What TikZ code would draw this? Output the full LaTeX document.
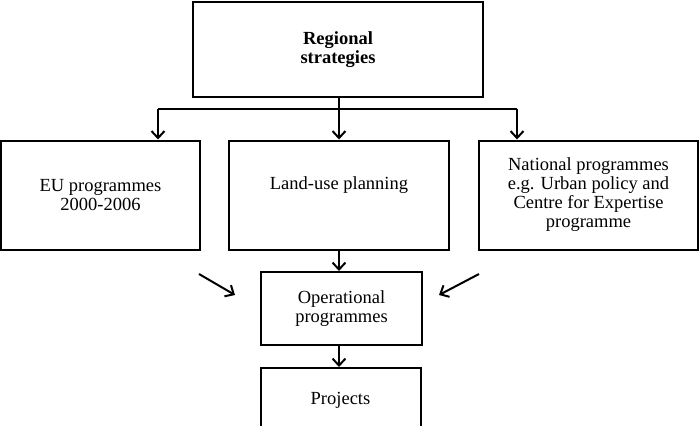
\documentclass[tikz,border=0pt]{standalone}
\usepackage{fontspec}
\setmainfont{Liberation Serif}
\usetikzlibrary{arrows.meta}

\tikzset{
  box/.style={draw, line width=2pt, inner sep=0pt, align=center,
    font=\fontsize{18.5}{19}\selectfont},
  flow/.style={line width=2pt, -{Straight Barb[length=7pt,width=13pt,line width=2pt]}}
}

\begin{document}
\begin{tikzpicture}[x=1pt,y=1pt,yscale=-1,xscale=1]
\useasboundingbox (0,0) rectangle (700,425);

% Boxes
\node [box, minimum width=290, minimum height=95] (regional) at (338,49.5) {\textbf{Regional}\\\textbf{strategies}};
\node [box, minimum width=199, minimum height=109] (eu) at (100.5,195) {EU programmes\\2000-2006};
\node [box, minimum width=220, minimum height=109, text depth=24pt] (landuse) at (339,195) {Land-use planning};
\node [box, minimum width=219, minimum height=109] (national) at (588.5,195) {National programmes\\e.g. Urban policy and\\Centre for Expertise\\programme};
\node [box, minimum width=161, minimum height=73] (operational) at (341.5,308.5) {Operational\\programmes};
\node [box, minimum width=160, minimum height=64] (projects) at (340.5,400) {Projects};

% Bus line under the top box
\coordinate (busL) at (158,109);
\coordinate (busR) at (517,109);
\draw [line width=2pt] (busL) -- (busR);
\draw [flow] (busL) -- (busL |- eu.north);
\draw [flow] (busR) -- (busR |- national.north);
\draw [flow] (regional.south -| 339,0) -- (339,0 |- landuse.north);

% Into operational programmes
\coordinate (euTail) at (199,274);
\coordinate (euHead) at (235,295);
\coordinate (natTail) at (479,274);
\coordinate (natHead) at (439,295);
\draw [flow] (euTail) -- (euHead);
\draw [flow] (natTail) -- (natHead);
\draw [flow] (landuse.south -| 339,0) -- (339,0 |- operational.north);
\draw [flow] (operational.south -| 339,0) -- (339,0 |- projects.north);

\end{tikzpicture}
\end{document}
